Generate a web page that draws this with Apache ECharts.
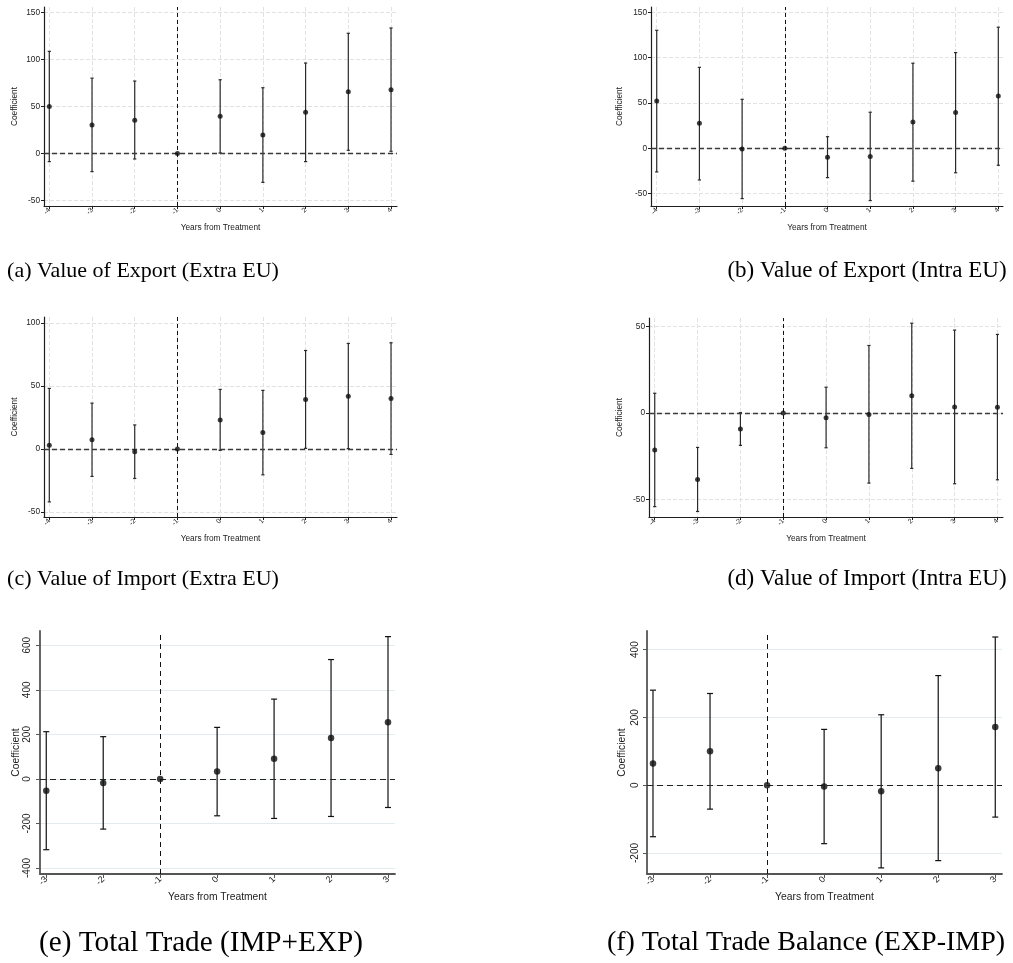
<!DOCTYPE html>
<html>
<head>
<meta charset="utf-8">
<script src="https://cdn.jsdelivr.net/npm/echarts@6/dist/echarts.min.js"></script>
<style>
html, body { margin: 0; padding: 0; background: #fff; }
#chart { width: 1013px; height: 963px; }
</style>
</head>
<body>
<div id="chart"></div>
<script>
// Event-study estimates: point coefficient with lower/upper confidence bounds per year
const yearsLong = [-4, -3, -2, -1, 0, 1, 2, 3, 4];
const yearsShort = [-3, -2, -1, 0, 1, 2, 3];

const exportExtraCoef = [50.0, 30.3, 35.5, 0, 39.6, 19.8, 43.9, 65.6, 67.9];
const exportExtraLow  = [-8.5, -19.1, -5.7, 0, 0.7, -30.5, -8.5, 3.5, 2.5];
const exportExtraHigh = [108.5, 80.1, 77.0, 0, 78.4, 69.9, 96.1, 127.7, 133.3];

const exportIntraCoef = [52.1, 27.6, -0.7, 0, -9.8, -8.9, 29.0, 39.4, 57.6];
const exportIntraLow  = [-26.0, -34.9, -55.4, 0, -32.3, -57.6, -36.2, -27.0, -18.7];
const exportIntraHigh = [130.1, 89.3, 54.0, 0, 12.8, 39.8, 93.8, 105.5, 133.5];

const importExtraCoef = [3.0, 7.3, -2.1, 0, 23.0, 13.0, 39.2, 41.9, 40.1];
const importExtraLow  = [-42.0, -21.8, -23.4, 0, -1.1, -20.5, 0.5, 0.3, -4.3];
const importExtraHigh = [48.1, 36.4, 19.1, 0, 47.3, 46.5, 78.2, 83.8, 84.3];

const importIntraCoef = [-21.4, -38.5, -9.2, 0, -2.7, -0.8, 10.0, 3.4, 3.3];
const importIntraLow  = [-54.1, -56.9, -18.7, 0, -20.1, -40.5, -32.0, -40.9, -38.6];
const importIntraHigh = [11.4, -19.9, 0.2, 0, 14.9, 39.0, 51.9, 47.9, 45.4];

const totalTradeCoef = [-53.5, -17.9, 0, 32.8, 90.0, 183.6, 254.5];
const totalTradeLow  = [-317.9, -225.4, 0, -165.7, -177.6, -168.7, -128.4];
const totalTradeHigh = [211.9, 189.6, 0, 231.3, 358.2, 535.8, 638.8];

const tradeBalanceCoef = [64.4, 100.0, 0, -3.9, -17.8, 50.3, 171.6];
const tradeBalanceLow  = [-152.0, -70.6, 0, -172.5, -244.0, -222.5, -94.1];
const tradeBalanceHigh = [280.4, 270.6, 0, 164.7, 207.8, 323.5, 437.3];

// Tick labels for each value axis
const yTicksExportExtra = [-50, 0, 50, 100, 150];
const yTicksExportIntra = [-50, 0, 50, 100, 150];
const yTicksImportExtra = [-50, 0, 50, 100];
const yTicksImportIntra = [-50, 0, 50];
const yTicksTotalTrade = [-400, -200, 0, 200, 400, 600];
const yTicksTradeBalance = [-200, 0, 200, 400];

const captions = [
  '(a) Value of Export (Extra EU)',
  '(b) Value of Export (Intra EU)',
  '(c) Value of Import (Extra EU)',
  '(d) Value of Import (Intra EU)',
  '(e) Total Trade (IMP+EXP)',
  '(f) Total Trade Balance (EXP-IMP)'
];
const xTitle = 'Years from Treatment';
const yTitle = 'Coefficient';
const eventYear = -1;

// Two visual schemes: dashed-grid panels (a-d) and solid-grid panels (e-f)
const SMALL = {
  axisColor: '#1e1e1e', axisWidth: 1.2, gridColor: '#e2e2e2', gridType: 'dashed', xGrid: true,
  labelSize: 8.3, xLabelSize: 7, nameSize: 8.3, xLabelMargin: 3, tickLen: 3,
  barColor: '#2a2a2a', barWidth: 1.2, cap: 1.6, dot: 5, yLabelRotate: 0,
  zeroColor: '#3a3a3a', zeroWidth: 1.4, zeroDash: [5, 3],
  vColor: '#111', vWidth: 1, vDash: [4, 3]
};
const LARGE = {
  axisColor: '#555', axisWidth: 1.8, gridColor: '#e2ebed', gridType: 'solid', xGrid: false,
  labelSize: 10, xLabelSize: 9, nameSize: 10.3, xLabelMargin: 4, tickLen: 4,
  barColor: '#111', barWidth: 1.2, cap: 3, dot: 6.5, yLabelRotate: 90,
  zeroColor: '#222', zeroWidth: 1.2, zeroDash: [6, 4],
  vColor: '#111', vWidth: 1, vDash: [5, 4]
};

const panels = [
  { years: yearsLong, coef: exportExtraCoef, low: exportExtraLow, high: exportExtraHigh, yTicks: yTicksExportExtra,
    S: SMALL, grid: [44, 7, 353, 199], xr: [-4.124, 4.14], yr: [-55.6, 155.6], yGap: 25, yMargin: 4, xGap: 18,
    cap: [143, 271], capSize: 22 },
  { years: yearsLong, coef: exportIntraCoef, low: exportIntraLow, high: exportIntraHigh, yTicks: yTicksExportIntra,
    S: SMALL, grid: [651, 7, 352, 199], xr: [-4.134, 4.11], yr: [-63.6, 155.8], yGap: 27, yMargin: 4, xGap: 18,
    cap: [867, 271], capSize: 23 },
  { years: yearsLong, coef: importExtraCoef, low: importExtraLow, high: importExtraHigh, yTicks: yTicksImportExtra,
    S: SMALL, grid: [44, 317, 353, 200], xr: [-4.124, 4.14], yr: [-54, 104.8], yGap: 25, yMargin: 4, xGap: 18,
    cap: [143, 579], capSize: 22 },
  { years: yearsLong, coef: importIntraCoef, low: importIntraLow, high: importIntraHigh, yTicks: yTicksImportIntra,
    S: SMALL, grid: [649, 318, 354, 199], xr: [-4.134, 4.13], yr: [-60.1, 54.9], yGap: 25, yMargin: 4, xGap: 18,
    cap: [867, 579], capSize: 23 },
  { years: yearsShort, coef: totalTradeCoef, low: totalTradeLow, high: totalTradeHigh, yTicks: yTicksTotalTrade,
    S: LARGE, grid: [40, 631, 355, 243], xr: [-3.11, 3.123], yr: [-427, 664], yGap: 17, yMargin: 8, xGap: 18,
    cap: [201, 943], capSize: 29.2 },
  { years: yearsShort, coef: tradeBalanceCoef, low: tradeBalanceLow, high: tradeBalanceHigh, yTicks: yTicksTradeBalance,
    S: LARGE, grid: [647, 631, 355, 243], xr: [-3.105, 3.118], yr: [-262, 455], yGap: 20, yMargin: 7, xGap: 18,
    cap: [806, 943], capSize: 28 }
];

const sansFont = 'Liberation Sans';
const option = {
  animation: false,
  backgroundColor: '#ffffff',
  grid: [], xAxis: [], yAxis: [], series: [], graphic: []
};

panels.forEach((p, i) => {
  const S = p.S;
  option.grid.push({ left: p.grid[0], top: p.grid[1], width: p.grid[2], height: p.grid[3], show: false });

  option.xAxis.push({
    type: 'value', gridIndex: i, min: p.xr[0], max: p.xr[1],
    name: xTitle, nameLocation: 'middle', nameGap: p.xGap,
    nameTextStyle: { fontFamily: sansFont, fontSize: S.nameSize, color: '#222' },
    axisLine: { show: true, onZero: false, lineStyle: { color: S.axisColor, width: S.axisWidth } },
    axisTick: { show: true, customValues: p.years, length: S.tickLen, lineStyle: { color: S.axisColor, width: 1 } },
    axisLabel: { customValues: p.years, rotate: 45, margin: S.xLabelMargin, fontFamily: sansFont,
      fontSize: S.xLabelSize, color: '#222', formatter: v => String(v) },
    splitLine: { show: S.xGrid, lineStyle: { color: S.gridColor, type: S.gridType, width: 1 } }
  });

  option.yAxis.push({
    type: 'value', gridIndex: i, min: p.yr[0], max: p.yr[1],
    name: yTitle, nameLocation: 'middle', nameGap: p.yGap, nameRotate: 90,
    nameTextStyle: { fontFamily: sansFont, fontSize: S.nameSize, color: '#222' },
    axisLine: { show: true, onZero: false, lineStyle: { color: S.axisColor, width: S.axisWidth } },
    axisTick: { show: true, customValues: p.yTicks, length: S.tickLen, lineStyle: { color: S.axisColor, width: 1 } },
    axisLabel: { customValues: p.yTicks, rotate: S.yLabelRotate, margin: p.yMargin, fontFamily: sansFont,
      fontSize: S.labelSize, color: '#222', formatter: v => String(v) },
    splitLine: { show: true, lineStyle: { color: S.gridColor, type: S.gridType, width: 1 } }
  });

  // Confidence intervals as capped vertical whiskers
  option.series.push({
    type: 'custom', xAxisIndex: i, yAxisIndex: i, silent: true, z: 3,
    data: p.years.map((yr, k) => [yr, p.low[k], p.high[k]]),
    renderItem: (params, api) => {
      const x = api.value(0), lo = api.value(1), hi = api.value(2);
      if (lo === hi) return null;
      const a = api.coord([x, hi]);
      const b = api.coord([x, lo]);
      const st = { stroke: S.barColor, lineWidth: S.barWidth };
      return {
        type: 'group',
        children: [
          { type: 'line', shape: { x1: a[0], y1: a[1], x2: b[0], y2: b[1] }, style: st },
          { type: 'line', shape: { x1: a[0] - S.cap, y1: a[1], x2: a[0] + S.cap, y2: a[1] }, style: st },
          { type: 'line', shape: { x1: b[0] - S.cap, y1: b[1], x2: b[0] + S.cap, y2: b[1] }, style: st }
        ]
      };
    },
    markLine: {
      silent: true, symbol: ['none', 'none'], label: { show: false },
      data: [
        { yAxis: 0, lineStyle: { color: S.zeroColor, width: S.zeroWidth, type: S.zeroDash } },
        { xAxis: eventYear, lineStyle: { color: S.vColor, width: S.vWidth, type: S.vDash } }
      ]
    }
  });

  // Point estimates
  option.series.push({
    type: 'scatter', xAxisIndex: i, yAxisIndex: i, silent: true, z: 5,
    symbol: 'circle', symbolSize: S.dot,
    itemStyle: { color: '#0d0d0d' },
    data: p.years.map((yr, k) => [yr, p.coef[k]])
  });

  option.graphic.push({
    type: 'text', x: p.cap[0], y: p.cap[1], silent: true,
    style: {
      text: captions[i], fill: '#000',
      font: p.capSize + 'px "Liberation Serif"',
      textAlign: 'center', textVerticalAlign: 'middle'
    }
  });
});

const chart = echarts.init(document.getElementById('chart'), null, { renderer: 'canvas' });
chart.setOption(option);
</script>
</body>
</html>
